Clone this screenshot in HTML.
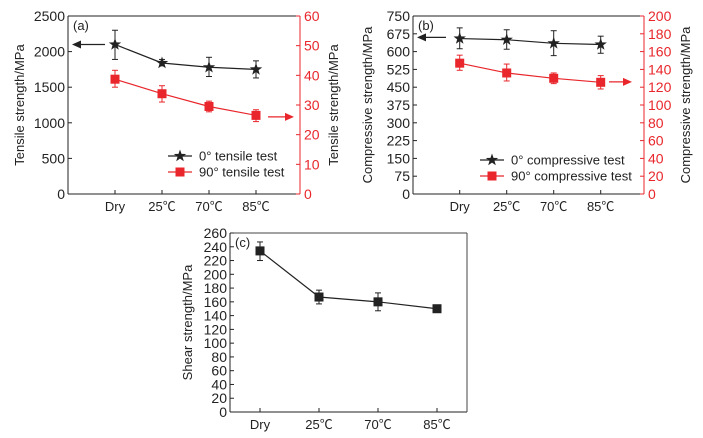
<!DOCTYPE html>
<html><head><meta charset="utf-8"><style>
html,body{margin:0;padding:0;background:#fff;}
svg{display:block;font-family:"Liberation Sans","Noto Sans CJK SC",sans-serif;}
</style></head><body>
<svg id="c" width="703" height="438" viewBox="0 0 703 438"></svg>
<script>
const categories = ["Dry","25℃","70℃","85℃"];
const tensile0 = [2100,1840,1780,1750];
const tensile0Err = [[1890,2300],[1800,1890],[1650,1920],[1630,1870]];
const tensile90 = [38.7,33.8,29.5,26.5];
const tensile90Err = [[36,41.7],[31,36.5],[27.7,31.3],[24.4,28.4]];
const comp0 = [655,650,635,630];
const comp0Err = [[612,700],[610,692],[583,688],[593,665]];
const comp90 = [147,136,130,125.5];
const comp90Err = [[139,156],[127,146],[124,136],[118,133]];
const shear = [234,167,160,150];
const shearErr = [[220,247],[157,177],[147,173],[145,155]];
const ticksA = [0,500,1000,1500,2000,2500];
const ticksA2 = [0,10,20,30,40,50,60];
const ticksB = [0,75,150,225,300,375,450,525,600,675,750];
const ticksB2 = [0,20,40,60,80,100,120,140,160,180,200];
const ticksC = [0,20,40,60,80,100,120,140,160,180,200,220,240,260];

const svg = document.getElementById('c');
const NS = 'http://www.w3.org/2000/svg';
function mk(tag, attrs, name, parent){
  const e = document.createElementNS(NS, tag);
  for (const k in attrs) e.setAttribute(k, attrs[k]);
  
  
  (parent||svg).appendChild(e);
  return e;
}
function txt(x,y,s,attrs,name,parent){
  const e = mk('text', Object.assign({x:x,y:y,'font-size':12},attrs||{}), name, parent);
  e.textContent = s; return e;
}
function panel(cfg){
  const g = mk('g',{},cfg.name);
  const L=cfg.l,R=cfg.r,T=cfg.t,B=cfg.b;
  const xs = i => cfg.x0 + i*cfg.dx;
  const y1 = v => B - (v/cfg.max1)*(B-T);
  const y2 = v => B - (v/(cfg.max2||1))*(B-T);
  mk('line',{x1:L,y1:T,x2:L,y2:B,stroke:'#222','stroke-width':1},'left-axis',g);
  mk('line',{x1:L,y1:B,x2:R,y2:B,stroke:'#222','stroke-width':1},'x-axis',g);
  if (cfg.right){
    mk('line',{x1:R,y1:T,x2:R,y2:B,stroke:'#e8262b','stroke-width':1},'right-axis',g);
    mk('line',{x1:L,y1:T,x2:R,y2:T,stroke:'#222','stroke-width':1},'top-axis',g);
  } else {
    mk('line',{x1:L,y1:T,x2:R,y2:T,stroke:'#444'},'top-axis',g);
    mk('line',{x1:R,y1:T,x2:R,y2:B,stroke:'#444'},'right-axis',g);
  }
  cfg.ticks1.forEach(v=>{
    mk('line',{x1:L,y1:y1(v),x2:L+4,y2:y1(v),stroke:'#222'},'y-tick',g);
    txt(L-3,y1(v)+5,String(v),{'text-anchor':'end','font-size':14,fill:'#222'},'y-tick-label',g);
  });
  if (cfg.right) cfg.ticks2.forEach(v=>{
    mk('line',{x1:R,y1:y2(v),x2:R-4,y2:y2(v),stroke:'#e8262b'},'y2-tick',g);
    txt(R+4,y2(v)+5,String(v),{'font-size':14,fill:'#e8262b'},'y2-tick-label',g);
  });
  categories.forEach((c,i)=>{
    mk('line',{x1:xs(i),y1:B,x2:xs(i),y2:B-4,stroke:'#222'},'x-tick',g);
    txt(xs(i),B+17,c,{'text-anchor':'middle','font-size':13,fill:'#222'},'x-tick-label',g);
  });
  txt(L+5,T+14,cfg.label,{'font-size':13,fill:'#222'},'panel-label',g);
  txt(0,0,cfg.ytitle,{'text-anchor':'middle','font-size':13,fill:'#222',transform:`translate(${cfg.ylx},${(T+B)/2}) rotate(-90)`},'y-axis-title',g);
  if (cfg.right) txt(0,0,cfg.ytitle2,{'text-anchor':'middle','font-size':13,fill:'#222',transform:`translate(${cfg.y2lx},${(T+B)/2}) rotate(-90)`},'y2-axis-title',g);
  cfg.series.forEach(s=>{
    const sy = s.axis===2 ? y2 : y1;
    const pts = s.vals.map((v,i)=>xs(i)+','+sy(v)).join(' ');
    mk('polyline',{points:pts,fill:'none',stroke:s.color,'stroke-width':1.2},s.name+'-line',g);
    s.vals.forEach((v,i)=>{
      const e=s.err[i], x=xs(i);
      mk('line',{x1:x,y1:sy(e[0]),x2:x,y2:sy(e[1]),stroke:s.color},s.name+'-errorbar',g);
      mk('line',{x1:x-3,y1:sy(e[0]),x2:x+3,y2:sy(e[0]),stroke:s.color},s.name+'-errorcap',g);
      mk('line',{x1:x-3,y1:sy(e[1]),x2:x+3,y2:sy(e[1]),stroke:s.color},s.name+'-errorcap',g);
      marker(s.marker,x,sy(v),s.color,s.name+'-point',g);
    });
  });
  return {xs,y1,y2,g};
}
function marker(type,x,y,color,name,g){
  if (type==='square') mk('rect',{x:x-4.5,y:y-4.5,width:9,height:9,fill:color},name,g);
  else {
    let p=[];
    for(let k=0;k<10;k++){const r=k%2?2.6:6.5;const a=-Math.PI/2+k*Math.PI/5;p.push((x+r*Math.cos(a)).toFixed(1)+','+(y+r*Math.sin(a)).toFixed(1));}
    mk('polygon',{points:p.join(' '),fill:color},name,g);
  }
}
function arrow(x1,x2,y,color,name,g){
  const d = x2<x1?1:-1;
  mk('line',{x1:x1,y1:y,x2:x2+d*6,y2:y,stroke:color,'stroke-width':1.2},name,g);
  mk('polygon',{points:`${x2},${y} ${x2+d*9},${y-4} ${x2+d*9},${y+4}`,fill:color},name+'-head',g);
}
function legend(g,x,y,items){
  items.forEach((it,i)=>{
    const yy=y+i*16;
    mk('line',{x1:x,y1:yy,x2:x+24,y2:yy,stroke:it.color,'stroke-width':1.2},'legend-line',g);
    marker(it.marker,x+12,yy,it.color,'legend-marker',g);
    txt(x+31,yy+4.5,it.text,{'font-size':13,fill:'#222'},'legend-entry',g);
  });
}
const A = panel({name:'tensile-panel',l:68,r:300,t:16,b:194,x0:115,dx:47,max1:2500,max2:60,ticks1:ticksA,ticks2:ticksA2,right:true,label:'(a)',ylx:24,y2lx:338,ytitle:'Tensile strength/MPa',ytitle2:'Tensile strength/MPa',
 series:[{name:'tensile-0deg',vals:tensile0,err:tensile0Err,color:'#222',marker:'star',axis:1},{name:'tensile-90deg',vals:tensile90,err:tensile90Err,color:'#e8262b',marker:'square',axis:2}]});
arrow(105,72,A.y1(2100),'#222','left-axis-arrow',A.g);
arrow(268,294,A.y2(26),'#e8262b','right-axis-arrow',A.g);
legend(A.g,168,156,[{text:'0° tensile test',color:'#222',marker:'star'},{text:'90° tensile test',color:'#e8262b',marker:'square'}]);
const Bp = panel({name:'compressive-panel',l:413,r:644,t:16,b:194,x0:459.7,dx:47,max1:750,max2:200,ticks1:ticksB,ticks2:ticksB2,right:true,label:'(b)',ylx:372,y2lx:690,ytitle:'Compressive strength/MPa',ytitle2:'Compressive strength/MPa',
 series:[{name:'compressive-0deg',vals:comp0,err:comp0Err,color:'#222',marker:'star',axis:1},{name:'compressive-90deg',vals:comp90,err:comp90Err,color:'#e8262b',marker:'square',axis:2}]});
arrow(446,417,Bp.y1(660),'#222','left-axis-arrow',Bp.g);
arrow(609,632,Bp.y2(126),'#e8262b','right-axis-arrow',Bp.g);
legend(Bp.g,480,160,[{text:'0° compressive test',color:'#222',marker:'star'},{text:'90° compressive test',color:'#e8262b',marker:'square'}]);
panel({name:'shear-panel',l:230,r:467,t:233,b:412,x0:260,dx:59,max1:260,ticks1:ticksC,right:false,label:'(c)',ylx:192,ytitle:'Shear strength/MPa',
 series:[{name:'shear',vals:shear,err:shearErr,color:'#222',marker:'square',axis:1}]});
</script>
</body></html>
